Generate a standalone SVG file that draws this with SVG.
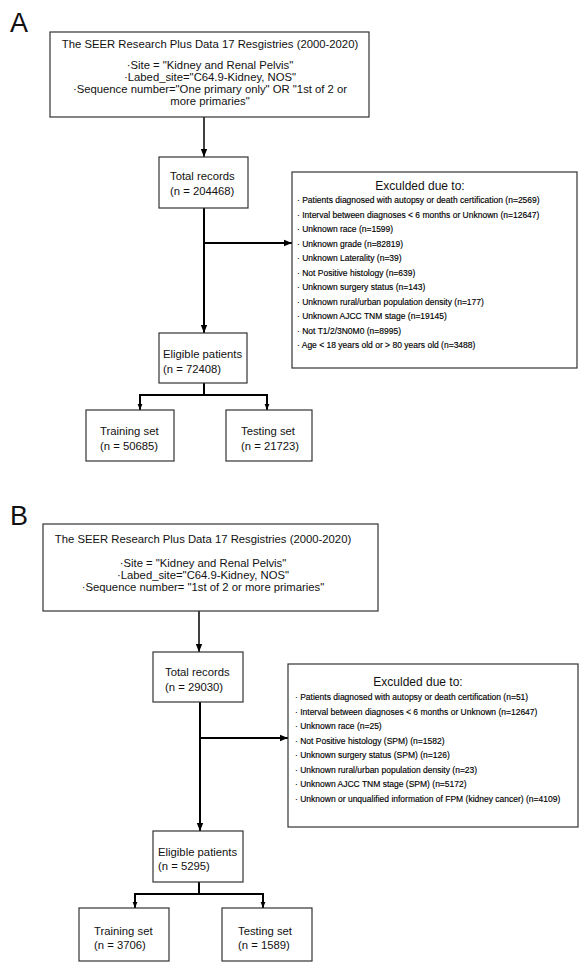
<svg xmlns="http://www.w3.org/2000/svg" width="588" height="970" viewBox="0 0 588 970">
<style>
.box{fill:#fff;stroke:#333;stroke-width:1.2}
.t{font-family:"Liberation Sans",Arial,sans-serif;font-size:11.3px;fill:#111}
.tc{font-family:"Liberation Sans",Arial,sans-serif;font-size:11.3px;fill:#111;text-anchor:middle}
.h{font-family:"Liberation Sans",Arial,sans-serif;font-size:12px;fill:#111;text-anchor:middle}
.it{font-family:"Liberation Sans",Arial,sans-serif;font-size:8.5px;fill:#000;stroke:#000;stroke-width:0.15}
.lbl{font-family:"Liberation Sans",Arial,sans-serif;font-size:27px;fill:#111}
.c{fill:none;stroke:#000;stroke-width:2}
.c1{fill:none;stroke:#000;stroke-width:1.5}
</style>
<defs>
<marker id="ah" markerUnits="userSpaceOnUse" markerWidth="8" markerHeight="8" viewBox="0 0 8 8" refX="8" refY="4" orient="auto">
<path d="M0,0.8 L8,4 L0,7.2 Z" fill="#000"/>
</marker>
<marker id="as" markerUnits="userSpaceOnUse" markerWidth="6" markerHeight="6" viewBox="0 0 6 6" refX="6" refY="3" orient="auto">
<path d="M0,0.6 L6,3 L0,5.4 Z" fill="#000"/>
</marker>
</defs>
<rect width="588" height="970" fill="#fff"/>
<text class="lbl" x="10" y="32">A</text>
<text class="lbl" x="10" y="525">B</text>

<g id="connectors">
<line class="c1" x1="204" y1="117" x2="204" y2="157" marker-end="url(#ah)"/>
<line class="c" x1="204" y1="208" x2="204" y2="333" marker-end="url(#ah)"/>
<line class="c" x1="204" y1="243" x2="292" y2="243" marker-end="url(#ah)"/>
<path class="c" d="M204,383 V395 M139,395 H268"/>
<line class="c" x1="140" y1="395" x2="140" y2="410" marker-end="url(#as)"/>
<line class="c" x1="267" y1="395" x2="267" y2="410" marker-end="url(#as)"/>

<line class="c1" x1="199" y1="611" x2="199" y2="652" marker-end="url(#ah)"/>
<line class="c" x1="200" y1="702" x2="200" y2="831" marker-end="url(#ah)"/>
<line class="c" x1="200" y1="738" x2="288" y2="738" marker-end="url(#ah)"/>
<path class="c" d="M199,882 V894 M134,894 H264"/>
<line class="c" x1="135" y1="894" x2="135" y2="908" marker-end="url(#as)"/>
<line class="c" x1="263" y1="894" x2="263" y2="908" marker-end="url(#as)"/>
</g>

<g id="a-source">
<rect class="box" x="50" y="32" width="319" height="85"/>
<text class="tc" x="210" y="48">The SEER Research Plus Data 17 Resgistries (2000-2020)</text>
<text class="tc" x="210" y="69">·Site = "Kidney and Renal Pelvis"</text>
<text class="tc" x="210" y="81">·Labed_site="C64.9-Kidney, NOS"</text>
<text class="tc" x="210" y="93">·Sequence number="One primary only" OR "1st of 2 or</text>
<text class="tc" x="210" y="105">more primaries"</text>
</g>
<g id="a-total">
<rect class="box" x="159" y="157" width="89" height="51"/>
<text class="t" x="170" y="180">Total records</text>
<text class="t" x="170" y="195">(n = 204468)</text>
</g>
<g id="a-excluded">
<rect class="box" x="292" y="172" width="285" height="196"/>
<text class="h" x="420" y="190">Exculded due to:</text>
<text class="it" x="297" y="203">· Patients diagnosed with autopsy or death certification (n=2569)</text>
<text class="it" x="297" y="217.5">· Interval between diagnoses &lt; 6 months or Unknown (n=12647)</text>
<text class="it" x="297" y="232">· Unknown race (n=1599)</text>
<text class="it" x="297" y="246.5">· Unknown grade (n=82819)</text>
<text class="it" x="297" y="261">· Unknown Laterality (n=39)</text>
<text class="it" x="297" y="275.5">· Not Positive histology (n=639)</text>
<text class="it" x="297" y="290">· Unknown surgery status (n=143)</text>
<text class="it" x="297" y="304.5">· Unknown rural/urban population density (n=177)</text>
<text class="it" x="297" y="319">· Unknown AJCC TNM stage (n=19145)</text>
<text class="it" x="297" y="333.5">· Not T1/2/3N0M0 (n=8995)</text>
<text class="it" x="297" y="348">· Age &lt; 18 years old or &gt; 80 years old (n=3488)</text>
</g>
<g id="a-eligible">
<rect class="box" x="159" y="333" width="88" height="50"/>
<text class="t" x="163" y="358">Eligible patients</text>
<text class="t" x="163" y="373">(n = 72408)</text>
</g>
<g id="a-training">
<rect class="box" x="86" y="410" width="88" height="51"/>
<text class="t" x="100" y="435">Training set</text>
<text class="t" x="100" y="450">(n = 50685)</text>
</g>
<g id="a-testing">
<rect class="box" x="226" y="410" width="86" height="51"/>
<text class="t" x="241" y="435">Testing set</text>
<text class="t" x="241" y="450">(n = 21723)</text>
</g>

<g id="b-source">
<rect class="box" x="43" y="524" width="335" height="87"/>
<text class="tc" x="203" y="543">The SEER Research Plus Data 17 Resgistries (2000-2020)</text>
<text class="tc" x="203" y="567">·Site = "Kidney and Renal Pelvis"</text>
<text class="tc" x="203" y="579">·Labed_site="C64.9-Kidney, NOS"</text>
<text class="tc" x="203" y="591">·Sequence number= "1st of 2 or more primaries"</text>
</g>
<g id="b-total">
<rect class="box" x="153" y="652" width="90" height="50"/>
<text class="t" x="165" y="676">Total records</text>
<text class="t" x="165" y="691">(n = 29030)</text>
</g>
<g id="b-excluded">
<rect class="box" x="288" y="664" width="290" height="163"/>
<text class="h" x="418" y="686">Exculded due to:</text>
<text class="it" x="295" y="700">· Patients diagnosed with autopsy or death certification (n=51)</text>
<text class="it" x="295" y="714.5">· Interval between diagnoses &lt; 6 months or Unknown (n=12647)</text>
<text class="it" x="295" y="729">· Unknown race (n=25)</text>
<text class="it" x="295" y="743.5">· Not Positive histology (SPM) (n=1582)</text>
<text class="it" x="295" y="758">· Unknown surgery status (SPM) (n=126)</text>
<text class="it" x="295" y="772.5">· Unknown rural/urban population density (n=23)</text>
<text class="it" x="295" y="787">· Unknown AJCC TNM stage (SPM) (n=5172)</text>
<text class="it" x="295" y="801.5">· Unknown or unqualified information of FPM (kidney cancer) (n=4109)</text>
</g>
<g id="b-eligible">
<rect class="box" x="153" y="831" width="90" height="51"/>
<text class="t" x="158" y="856">Eligible patients</text>
<text class="t" x="158" y="870">(n = 5295)</text>
</g>
<g id="b-training">
<rect class="box" x="79" y="908" width="90" height="53"/>
<text class="t" x="94" y="935">Training set</text>
<text class="t" x="94" y="949">(n = 3706)</text>
</g>
<g id="b-testing">
<rect class="box" x="222" y="908" width="90" height="53"/>
<text class="t" x="238" y="935">Testing set</text>
<text class="t" x="238" y="949">(n = 1589)</text>
</g>
</svg>
